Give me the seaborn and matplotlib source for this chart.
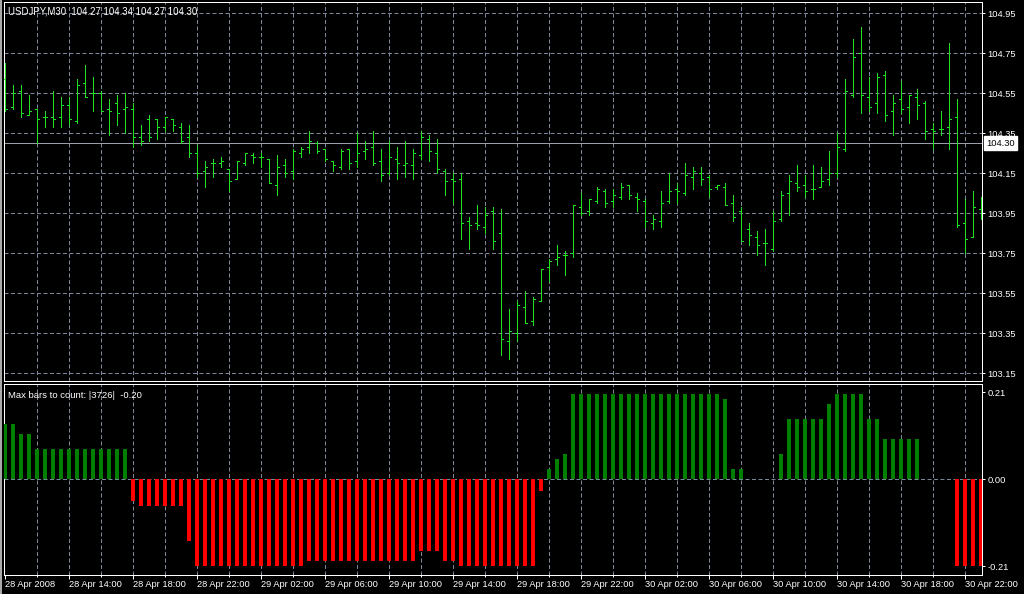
import numpy as np
import pandas as pd
import matplotlib
matplotlib.use("Agg")
import matplotlib.pyplot as plt
from matplotlib.patches import Rectangle
import seaborn as sns

# ---------------- data ----------------
bar_open = [104.62, 104.48, 104.56, 104.44, 104.47, 104.43, 104.43, 104.43, 104.49, 104.41,
            104.60, 104.55, 104.55, 104.47, 104.50, 104.47, 104.47, 104.33, 104.42, 104.42,
            104.38, 104.42, 104.38, 104.33, 104.25, 104.16, 104.20, 104.20, 104.17, 104.12,
            104.20, 104.24, 104.23, 104.22, 104.09, 104.19, 104.16, 104.25, 104.28, 104.30,
            104.27, 104.21, 104.18, 104.27, 104.21, 104.26, 104.28, 104.21, 104.15, 104.22,
            104.19, 104.19, 104.24, 104.32, 104.25, 104.16, 104.12, 104.12, 103.91, 103.90,
            103.88, 103.96, 103.85, 103.31, 103.35, 103.48, 103.41, 103.51, 103.68, 103.72,
            103.74, 103.75, 103.98, 103.96, 104.01, 104.06, 104.01, 104.03, 104.09, 104.03,
            104.01, 103.90, 103.91, 104.01, 104.07, 104.05, 104.13, 104.15, 104.13, 104.08,
            104.08, 104.00, 103.96, 103.87, 103.83, 103.80, 103.77, 103.92, 104.05, 104.10,
            104.09, 104.07, 104.08, 104.12, 104.15, 104.27, 104.54, 104.75, 104.53, 104.50,
            104.64, 104.46, 104.52, 104.48, 104.53, 104.50, 104.37, 104.37, 104.38, 104.43,
            103.90, 103.83, 103.97]
bar_high = [104.70, 104.59, 104.59, 104.54, 104.47, 104.46, 104.56, 104.53, 104.53, 104.62,
            104.69, 104.63, 104.56, 104.52, 104.54, 104.55, 104.50, 104.39, 104.44, 104.42,
            104.43, 104.42, 104.40, 104.39, 104.29, 104.21, 104.22, 104.23, 104.17, 104.21,
            104.25, 104.25, 104.25, 104.22, 104.24, 104.22, 104.27, 104.28, 104.36, 104.31,
            104.27, 104.21, 104.27, 104.27, 104.35, 104.31, 104.36, 104.27, 104.31, 104.28,
            104.31, 104.27, 104.36, 104.34, 104.32, 104.17, 104.15, 104.15, 103.93, 103.99,
            103.98, 103.98, 103.97, 103.47, 103.51, 103.56, 103.53, 103.67, 103.72, 103.79,
            103.76, 103.99, 104.05, 104.02, 104.08, 104.07, 104.07, 104.10, 104.09, 104.05,
            104.02, 103.94, 104.06, 104.15, 104.10, 104.20, 104.18, 104.18, 104.14, 104.09,
            104.10, 104.04, 103.98, 103.90, 103.86, 103.87, 103.96, 104.06, 104.14, 104.19,
            104.14, 104.19, 104.18, 104.26, 104.35, 104.62, 104.82, 104.88, 104.63, 104.65,
            104.66, 104.54, 104.61, 104.54, 104.57, 104.51, 104.40, 104.46, 104.80, 104.52,
            104.02, 104.06, 104.03]
bar_low = [104.46, 104.47, 104.43, 104.44, 104.30, 104.38, 104.38, 104.38, 104.39, 104.40,
           104.53, 104.46, 104.46, 104.34, 104.39, 104.35, 104.28, 104.29, 104.31, 104.32,
           104.36, 104.36, 104.30, 104.23, 104.13, 104.08, 104.13, 104.18, 104.06, 104.12,
           104.19, 104.20, 104.18, 104.10, 104.04, 104.13, 104.12, 104.23, 104.25, 104.25,
           104.21, 104.16, 104.17, 104.17, 104.18, 104.22, 104.19, 104.11, 104.14, 104.12,
           104.13, 104.12, 104.22, 104.21, 104.15, 104.04, 104.00, 103.82, 103.77, 103.87,
           103.85, 103.77, 103.24, 103.22, 103.31, 103.40, 103.39, 103.51, 103.61, 103.69,
           103.64, 103.73, 103.94, 103.94, 104.00, 103.98, 103.98, 104.02, 104.02, 103.96,
           103.88, 103.87, 103.88, 104.00, 104.00, 104.04, 104.07, 104.09, 104.03, 104.07,
           103.99, 103.91, 103.81, 103.79, 103.74, 103.69, 103.76, 103.91, 103.94, 104.06,
           104.03, 104.02, 104.08, 104.09, 104.13, 104.26, 104.53, 104.45, 104.46, 104.45,
           104.41, 104.34, 104.45, 104.40, 104.42, 104.32, 104.27, 104.34, 104.27, 103.88,
           103.75, 103.83, 103.92]
bar_close = [104.47, 104.55, 104.45, 104.46, 104.42, 104.43, 104.42, 104.49, 104.42, 104.59,
             104.53, 104.55, 104.46, 104.46, 104.45, 104.48, 104.33, 104.31, 104.33, 104.38,
             104.43, 104.39, 104.31, 104.25, 104.15, 104.18, 104.20, 104.21, 104.11, 104.21,
             104.25, 104.23, 104.23, 104.10, 104.18, 104.15, 104.26, 104.27, 104.31, 104.26,
             104.22, 104.19, 104.26, 104.20, 104.25, 104.27, 104.20, 104.14, 104.23, 104.20,
             104.20, 104.25, 104.33, 104.26, 104.17, 104.11, 104.11, 103.90, 103.89, 103.89,
             103.94, 103.81, 103.32, 103.36, 103.49, 103.40, 103.52, 103.67, 103.71, 103.73,
             103.74, 103.99, 103.95, 104.02, 104.07, 104.00, 104.04, 104.08, 104.04, 104.02,
             103.91, 103.92, 104.00, 104.06, 104.06, 104.14, 104.16, 104.12, 104.07, 104.09,
             103.99, 103.93, 103.81, 103.84, 103.79, 103.80, 103.91, 104.04, 104.11, 104.08,
             104.06, 104.07, 104.11, 104.15, 104.28, 104.56, 104.73, 104.54, 104.48, 104.63,
             104.44, 104.50, 104.47, 104.54, 104.49, 104.36, 104.36, 104.37, 104.42, 103.89,
             103.82, 103.98, 103.97]
osc_values = [0.133, 0.133, 0.109, 0.109, 0.072, 0.072, 0.072, 0.072, 0.072, 0.072,
              0.072, 0.072, 0.072, 0.072, 0.072, 0.072, -0.052, -0.064, -0.064, -0.064,
              -0.064, -0.064, -0.064, -0.149, -0.209, -0.209, -0.209, -0.209, -0.209, -0.209,
              -0.209, -0.209, -0.209, -0.209, -0.209, -0.209, -0.209, -0.209, -0.197, -0.197,
              -0.197, -0.197, -0.197, -0.197, -0.197, -0.197, -0.197, -0.197, -0.197, -0.197,
              -0.197, -0.197, -0.173, -0.173, -0.173, -0.197, -0.197, -0.209, -0.209, -0.209,
              -0.209, -0.209, -0.209, -0.209, -0.209, -0.209, -0.209, -0.028, 0.024, 0.048,
              0.060, 0.205, 0.205, 0.205, 0.205, 0.205, 0.205, 0.205, 0.205, 0.205,
              0.205, 0.205, 0.205, 0.205, 0.205, 0.205, 0.205, 0.205, 0.205, 0.205,
              0.193, 0.024, 0.024, 0.0, 0.0, 0.0, 0.0, 0.060, 0.145, 0.145,
              0.145, 0.145, 0.145, 0.181, 0.205, 0.205, 0.205, 0.205, 0.145, 0.145,
              0.097, 0.097, 0.097, 0.097, 0.097, 0.0, 0.0, 0.0, 0.0, -0.209,
              -0.209, -0.209, -0.209]
time_labels = ["28 Apr 2008", "28 Apr 14:00", "28 Apr 18:00", "28 Apr 22:00",
               "29 Apr 02:00", "29 Apr 06:00", "29 Apr 10:00", "29 Apr 14:00",
               "29 Apr 18:00", "29 Apr 22:00", "30 Apr 02:00", "30 Apr 06:00",
               "30 Apr 10:00", "30 Apr 14:00", "30 Apr 18:00", "30 Apr 22:00"]
price_ticks = [104.95, 104.75, 104.55, 104.35, 104.15, 103.95, 103.75, 103.55, 103.35, 103.15]
osc_ticks = [0.21, 0.00, -0.21]
current_price = 104.30
header_text = "USDJPY,M30  104.27 104.34 104.27 104.30"
sub_text = "Max bars to count: |3726|  -0.20"

# ---------------- style ----------------
sns.set_theme(style="dark")
plt.rcParams["font.family"] = ["Liberation Sans", "DejaVu Sans"]
plt.rcParams["axes.facecolor"] = "black"
plt.rcParams["figure.facecolor"] = "black"

W, H = 1024, 594
fig = plt.figure(figsize=(W / 100, H / 100), dpi=100)
fig.patch.set_facecolor("black")

PX = 0.72  # one pixel in points
GRID = "#7a8899"
FS = 6.7

def px_axes(l, t, r, b):
    return fig.add_axes([l / W, 1 - b / H, (r - l) / W, (b - t) / H])

ax1 = px_axes(4, 2, 982, 381)
ax2 = px_axes(4, 384, 982, 575)

n = len(bar_open)
idx = np.arange(n)
xlim = (-0.125, 122.125)

# ---------------- main price panel ----------------
ax1.set_facecolor("black")
for p in price_ticks:
    ax1.axhline(p, color=GRID, lw=PX, dashes=(4, 2.5), zorder=1)
for k in range(4, n, 4):
    ax1.axvline(k, color=GRID, lw=PX, dashes=(4, 2.5), zorder=1)
    ax2.axvline(k, color=GRID, lw=PX, dashes=(4, 2.5), zorder=1)
ax1.axhline(current_price, color="#9aa0aa", lw=PX, zorder=2)

bar_color = "#22e022"
LW = PX * 0.9
ax1.vlines(idx, bar_low, bar_high, colors=bar_color, lw=LW, antialiased=False, zorder=3)
ax1.hlines(bar_open, idx - 0.28, idx, colors=bar_color, lw=LW, antialiased=False, zorder=3)
ax1.hlines(bar_close, idx, idx + 0.28, colors=bar_color, lw=LW, antialiased=False, zorder=3)

ax1.set_xlim(*xlim)
ax1.set_ylim(103.1115, 105.0065)
ax1.set_xticks([])
ax1.yaxis.tick_right()
ax1.set_yticks(price_ticks)
ax1.set_yticklabels([f"{p:.2f}" for p in price_ticks])
ax1.tick_params(axis="y", colors="white", labelcolor="white", length=2.5, width=PX,
                labelsize=FS, pad=1.5, direction="out")
ax1.grid(False)
for s in ax1.spines.values():
    s.set_color("white")
    s.set_linewidth(PX)

ax1.annotate(f"{current_price:.2f}", xy=(1.0, current_price),
             xycoords=("axes fraction", "data"), xytext=(4, 0), textcoords="offset pixels",
             ha="left", va="center", fontsize=FS, color="black",
             bbox=dict(boxstyle="square,pad=0.25", fc="white", ec="white"),
             annotation_clip=False, zorder=5)

# ---------------- oscillator panel ----------------
ax2.set_facecolor("black")
ax2.axhline(0, color=GRID, lw=PX, dashes=(4, 2.5), zorder=1)
df = pd.DataFrame({"bar": idx, "value": osc_values})
df["dir"] = np.where(df["value"] >= 0, "up", "down")
sns.barplot(data=df, x="bar", y="value", hue="dir",
            palette={"up": "#008000", "down": "#ff0000"}, native_scale=True,
            dodge=False, width=0.45, errorbar=None, legend=False, saturation=1,
            linewidth=0, ax=ax2, zorder=3)
ax2.set_xlim(*xlim)
ax2.set_ylim(-0.231, 0.230)
ax2.set_xlabel("")
ax2.set_ylabel("")
ax2.yaxis.tick_right()
ax2.set_yticks(osc_ticks)
ax2.set_yticklabels([f"{v:.2f}" for v in osc_ticks])
ax2.set_xticks(np.arange(0, n, 8))
ax2.set_xticklabels(time_labels)
ax2.set_xticks(np.arange(4, n, 8), minor=True)
ax2.tick_params(axis="y", colors="white", labelcolor="white", length=2.5, width=PX,
                labelsize=FS, pad=1.5, direction="out")
ax2.tick_params(axis="x", which="major", colors="white", labelcolor="white", length=3,
                width=PX, labelsize=FS, pad=0.5, direction="out", bottom=True)
ax2.tick_params(axis="x", which="minor", colors="white", length=1.5, width=PX,
                direction="out", bottom=True)
for lab in ax2.get_xticklabels():
    lab.set_horizontalalignment("left")
ax2.grid(False)
for s in ax2.spines.values():
    s.set_color("white")
    s.set_linewidth(PX)

# ---------------- texts ----------------
fig.text(8 / W, 1 - 11 / H, header_text, color="white", fontsize=FS + 0.2,
         ha="left", va="center")
fig.text(8 / W, 1 - 395.5 / H, sub_text, color="white", fontsize=FS + 0.1,
         ha="left", va="center")

fig.patches.append(Rectangle((0, 0), 2 / W, 1, transform=fig.transFigure,
                             facecolor="#a8a8a8", edgecolor="none"))

fig.savefig("out.png", dpi=100, facecolor="black")
